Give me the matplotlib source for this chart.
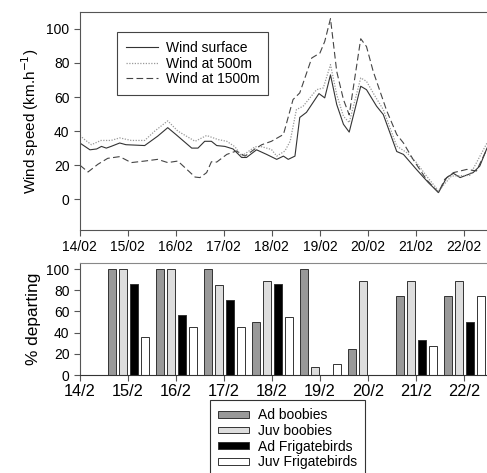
import numpy as np
import matplotlib.pyplot as plt
from matplotlib.patches import Patch

plt.rcParams['font.family'] = ['Liberation Sans', 'DejaVu Sans']
plt.rcParams['font.size'] = 10

# wind speed (km/h), time in days since 14/02 00:00
t_surf = [0, 0.21, 0.35, 0.45, 0.55, 0.65, 0.83, 0.96, 1.35, 1.62, 1.83, 2.0, 2.33, 2.46,
          2.6, 2.74, 2.85, 3.02, 3.19, 3.37, 3.47, 3.68, 3.89, 4.1, 4.24, 4.34, 4.48, 4.58,
          4.72, 4.98, 5.1, 5.22, 5.35, 5.49, 5.61, 5.85, 5.97, 6.18, 6.32, 6.6, 6.74, 7.01,
          7.26, 7.47, 7.64, 7.78, 7.92, 8.19, 8.33, 8.48]
wind_surf = [33, 29, 29.5, 31, 30, 31, 33, 32, 31.5, 37, 42, 38, 30, 30,
             34, 34, 31.5, 31, 29.5, 24.5, 24.5, 29, 26.3, 23.4, 25.3, 23.4, 25.3, 48,
             51, 62, 59.5, 73, 55.6, 44, 39.4, 66.3, 64.3, 54.6, 49.7, 28, 26.3, 17.5,
             9.7, 3.9, 12.7, 15.2, 12.7, 15.6, 19.5, 30]

t_500 = [0, 0.1, 0.24, 0.44, 0.65, 0.83, 1.07, 1.35, 1.56, 1.83, 2.04, 2.4, 2.64, 2.88,
         3.06, 3.23, 3.37, 3.65, 3.79, 3.99, 4.1, 4.27, 4.38, 4.51, 4.65, 4.93, 5.07, 5.22,
         5.35, 5.49, 5.61, 5.85, 5.97, 6.15, 6.32, 6.6, 6.81, 7.01, 7.22, 7.47, 7.74, 8.12,
         8.48]
wind_500 = [37.4, 35, 32, 34.5, 34.5, 36, 34.5, 34.5, 40, 46, 40, 34, 37.4, 35,
            34, 30.8, 25.3, 30.8, 30.8, 29.2, 25.3, 28.3, 34, 52.6, 54.6, 64.3, 65.3, 79,
            61.4, 48.7, 45, 71.2, 69.2, 60.4, 52.6, 31.2, 27.3, 21.5, 13.6, 4.9, 13.6, 14,
            33]

t_1500 = [0, 0.17, 0.375, 0.58, 0.83, 1.07, 1.35, 1.62, 1.83, 2.04, 2.19, 2.4, 2.5, 2.64,
          2.74, 2.85, 3.06, 3.26, 3.44, 3.65, 3.79, 3.99, 4.24, 4.44, 4.58, 4.83, 5.0, 5.1,
          5.22, 5.35, 5.49, 5.61, 5.85, 5.97, 6.11, 6.39, 6.6, 6.74, 6.94, 7.22, 7.47, 7.6,
          7.78, 8.06, 8.26, 8.48]
wind_1500 = [20, 16, 20.5, 24, 25, 21.5, 22.4, 23.4, 21.5, 22.4, 18.5, 13, 12.7, 15.6,
             22, 21.8, 26.3, 28.3, 25.3, 29.6, 32, 34, 38, 58.5, 62.4, 82.9, 85.8, 92.6,
             106, 75, 58.5, 49.5, 94.2, 89.6, 75, 52, 38, 33, 23.4, 11.5, 3.9, 11.7,
             15.6, 17.5, 16.6, 29.5]

top_ticks = ['14/02', '15/02', '16/02', '17/02', '18/02', '19/02', '20/02', '21/02', '22/02']

# % departing per day (15/2 .. 22/2)
days = [1, 2, 3, 4, 5, 6, 7, 8]
ad_boobies = [100, 100, 100, 50, 100, 25, 75, 75]
juv_boobies = [100, 100, 85, 89, 8, 89, 89, 89]
ad_frig = [86, 57, 71, 86, 0, 0, 33, 50]
juv_frig = [36, 45, 45, 55, 10, 0, 27, 75]
bottom_ticks = ['14/2', '15/2', '16/2', '17/2', '18/2', '19/2', '20/2', '21/2', '22/2']

W, H = 487, 473
fig = plt.figure(figsize=(W / 100, H / 100), dpi=100)

# wind panel
ax1 = fig.add_axes([0.164, 0.514, 0.836, 0.461])
ax1.plot(t_surf, wind_surf, color='#333333', lw=0.8, label='Wind surface')
ax1.plot(t_500, wind_500, color='#999999', lw=0.9, ls=(0, (1, 1.2)), label='Wind at 500m')
ax1.plot(t_1500, wind_1500, color='#444444', lw=0.8, ls=(0, (6, 3)), label='Wind at 1500m')
ax1.set_xlim(0, 8.48)
ax1.set_ylim(-18, 110)
ax1.set_yticks([0, 20, 40, 60, 80, 100])
ax1.set_xticks(range(9))
ax1.set_xticklabels(top_ticks)
ax1.set_ylabel('Wind speed (km.h$^{-1}$)', fontsize=11)
ax1.spines['right'].set_visible(False)
for s in ['top', 'left', 'bottom']:
    ax1.spines[s].set_color('#555555')
    ax1.spines[s].set_linewidth(0.8)
ax1.tick_params(direction='out', length=4, color='#555555', width=0.8)
leg = ax1.legend(loc='upper left', bbox_to_anchor=(117 / W, 1 - 32 / H),
                 bbox_transform=fig.transFigure, borderaxespad=0, fancybox=False,
                 edgecolor='#444444', framealpha=1, handlelength=2.3, handletextpad=0.55,
                 borderpad=0.65, labelspacing=0.12, fontsize=10)
leg.get_frame().set_linewidth(0.8)

# departure panel
ax2 = fig.add_axes([0.164, 0.207, 0.836, 0.237])
w = 0.156
step = 0.229
x = np.array(days, dtype=float)
ax2.bar(x - 1.5 * step + 0.01, ad_boobies, w, color='#999999', edgecolor='#333333', lw=0.7)
ax2.bar(x - 0.5 * step + 0.01, juv_boobies, w, color='#dddddd', edgecolor='#333333', lw=0.7)
ax2.bar(x + 0.5 * step + 0.01, ad_frig, w, color='black', edgecolor='#333333', lw=0.7)
ax2.bar(x + 1.5 * step + 0.01, juv_frig, w, color='white', edgecolor='#333333', lw=0.7)
ax2.set_xlim(0, 8.48)
ax2.set_ylim(0, 105.7)
ax2.set_yticks([0, 20, 40, 60, 80, 100])
ax2.set_xticks(range(9))
ax2.set_xticklabels(bottom_ticks, fontsize=11.8)
ax2.set_ylabel('% departing', fontsize=12.4)
ax2.spines['right'].set_visible(False)
ax2.spines['top'].set_color('#888888')
ax2.spines['left'].set_color('#555555')
ax2.spines['bottom'].set_color('#333333')
ax2.tick_params(direction='out', length=4, color='#555555', width=0.8)
ax2.tick_params(axis='x', pad=2.5)

handles = [Patch(facecolor=c, edgecolor='#333333', lw=0.7) for c in ['#999999', '#dddddd', 'black', 'white']]
labels = ['Ad boobies', 'Juv boobies', 'Ad Frigatebirds', 'Juv Frigatebirds']
leg2 = fig.legend(handles, labels, loc='upper left', bbox_to_anchor=(210 / W, 1 - 400 / H),
                  borderaxespad=0, fancybox=False, edgecolor='#333333', framealpha=1,
                  handlelength=2.2, handleheight=0.35, handletextpad=0.65,
                  borderpad=0.6, labelspacing=0.12, fontsize=10)
leg2.get_frame().set_linewidth(0.8)

fig.savefig('out.png', dpi=100)
